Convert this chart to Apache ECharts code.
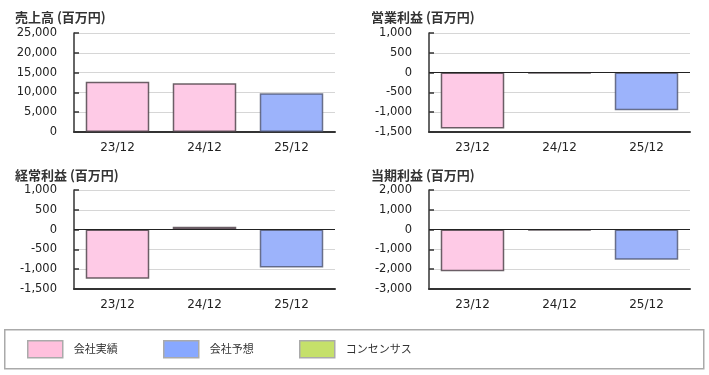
<!DOCTYPE html>
<html>
<head>
<meta charset="utf-8">
<script src="https://cdn.jsdelivr.net/npm/echarts@6/dist/echarts.min.js"></script>
<style>
html,body{margin:0;padding:0;background:#fff;}
#c{width:709px;height:375px;}
</style>
</head>
<body>
<div id="c"></div>
<script>
const categories = ['23/12', '24/12', '25/12'];
const sales = [12700, 12300, 9800];
const operatingProfit = [-1410, -20, -950];
const ordinaryProfit = [-1240, 70, -960];
const netProfit = [-2100, -40, -1520];
const forecastStart = 2; // index of first forecast period
const chartTitles = ['売上高 (百万円)', '営業利益 (百万円)', '経常利益 (百万円)', '当期利益 (百万円)'];
const axisMin = [0, -1500, -1500, -3000];
const axisMax = [25000, 1000, 1000, 2000];
const axisInterval = [5000, 500, 500, 1000];
const legendNames = ['会社実績', '会社予想', 'コンセンサス'];

const values = [sales, operatingProfit, ordinaryProfit, netProfit];
const gridPos = [
  {left: 74, top: 33, width: 261, height: 99},
  {left: 429, top: 33, width: 261, height: 99},
  {left: 74, top: 190, width: 261, height: 99},
  {left: 429, top: 190, width: 261, height: 99}
];
const titlePos = [[15, 11], [371, 11], [15, 169], [371, 169]];
const legendColors = ['#ffc0dd', '#88a8ff', '#c5e06a'];
const barColors = ['#fecae6', '#9cb3fb'];
const fontFam = 'DejaVu Sans, Verdana, sans-serif';

const grids = [], xAxes = [], yAxes = [], titles = [], series = [];
values.forEach((arr, g) => {
  grids.push(Object.assign({containLabel: false}, gridPos[g]));
  titles.push({
    text: chartTitles[g], left: titlePos[g][0], top: titlePos[g][1], padding: 0,
    textStyle: {fontSize: 13, fontWeight: 'bold', color: '#333', fontFamily: 'Noto Sans CJK JP'}
  });
  xAxes.push({
    type: 'category', gridIndex: g, data: categories,
    axisLine: {onZero: false, lineStyle: {color: '#333', width: 2}},
    axisTick: {show: false},
    axisLabel: {color: '#222', fontSize: 12, fontFamily: fontFam, margin: 10}
  });
  yAxes.push({
    type: 'value', gridIndex: g, min: axisMin[g], max: axisMax[g], interval: axisInterval[g],
    axisLine: {show: true, lineStyle: {color: '#333', width: 1.5}},
    axisTick: {show: true, inside: true, length: 5, lineStyle: {color: '#333', width: 1.5}},
    axisLabel: {color: '#222', fontSize: 11.5, fontFamily: fontFam, margin: 17,
      formatter: v => v.toLocaleString('en-US')},
    splitLine: {show: true, lineStyle: {color: '#d6d6d6', width: 1}}
  });
  const actual = arr.map((v, i) => i < forecastStart ? v : '-');
  const forecast = arr.map((v, i) => i >= forecastStart ? v : '-');
  series.push({
    name: legendNames[0], type: 'bar', xAxisIndex: g, yAxisIndex: g, data: actual,
    barWidth: '73%', barGap: '-100%',
    itemStyle: {color: barColors[0], borderColor: 'rgba(70,60,66,0.8)', borderWidth: 1.5},
    markLine: g === 0 ? undefined : {
      silent: true, symbol: ['none', 'none'], label: {show: false},
      lineStyle: {color: '#222', width: 1, type: 'solid'},
      data: [{yAxis: 0}]
    }
  });
  series.push({
    name: legendNames[1], type: 'bar', xAxisIndex: g, yAxisIndex: g, data: forecast,
    barWidth: '73%', barGap: '-100%',
    itemStyle: {color: barColors[1], borderColor: 'rgba(70,75,100,0.75)', borderWidth: 1.5}
  });
});
series.push({name: legendNames[2], type: 'bar', xAxisIndex: 0, yAxisIndex: 0, data: [],
  barWidth: '73%', barGap: '-100%', itemStyle: {color: legendColors[2]}});

const legendLeft = [27, 163, 299];
const legends = legendNames.map((n, i) => ({
  left: legendLeft[i], top: 340, padding: 0, itemWidth: 35, itemHeight: 17,
  selectedMode: false,
  data: [{name: n, icon: 'rect', itemStyle: {color: legendColors[i], borderColor: '#aaa', borderWidth: 1.5}}],
  textStyle: {fontSize: 11, color: '#333', fontFamily: 'Noto Sans CJK JP', padding: [0, 0, 0, 6]}
}));

const chart = echarts.init(document.getElementById('c'), null, {renderer: 'canvas'});
chart.setOption({
  animation: false,
  backgroundColor: '#fff',
  title: titles,
  grid: grids,
  xAxis: xAxes,
  yAxis: yAxes,
  legend: legends,
  graphic: [{
    type: 'rect', left: 4, top: 329, z: -1,
    shape: {width: 699, height: 39},
    style: {fill: '#fff', stroke: '#aaa', lineWidth: 1.5}
  }],
  series: series
});
</script>
</body>
</html>
